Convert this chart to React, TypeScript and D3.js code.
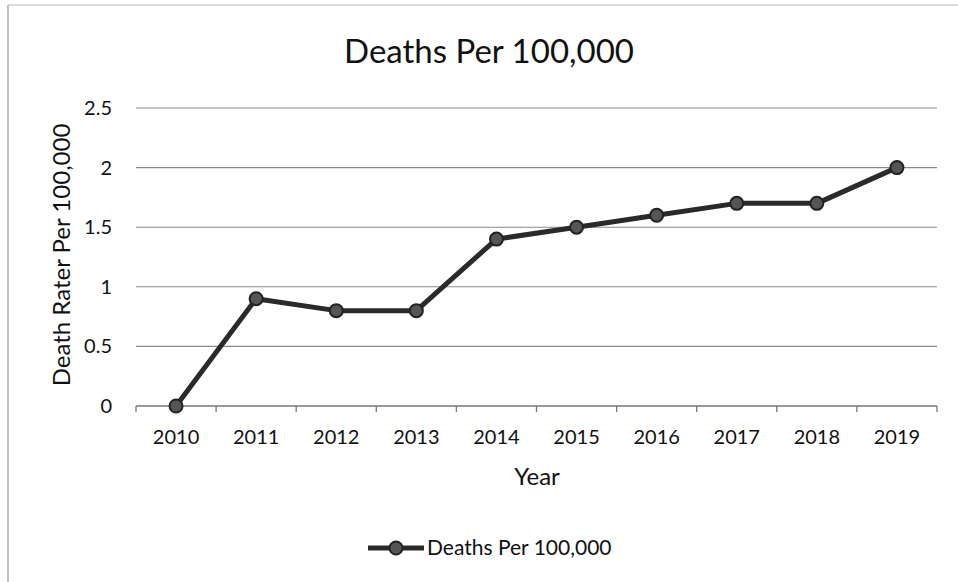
import React from "react";
import * as d3 from "d3";

const years = ["2010", "2011", "2012", "2013", "2014", "2015", "2016", "2017", "2018", "2019"];
const deaths = [0, 0.9, 0.8, 0.8, 1.4, 1.5, 1.6, 1.7, 1.7, 2.0];
const yTicks = [0, 0.5, 1, 1.5, 2, 2.5];
const title = "Deaths Per 100,000";
const seriesName = "Deaths Per 100,000";
const xTitle = "Year";
const yTitle = "Death Rater Per 100,000";

const W = 958;
const H = 582;
const font = "Lato, 'Open Sans', sans-serif";

export default function App() {
  const x = d3.scaleBand<string>().domain(years).range([136, 937]);
  const y = d3.scaleLinear().domain([0, 2.5]).range([406, 108]);
  const line = d3
    .line<number>()
    .x((_, i) => (x(years[i]) as number) + x.bandwidth() / 2)
    .y((d) => y(d));
  const bounds = years.map((yr) => x(yr) as number).concat([x.range()[1]]);

  return (
    <svg
      width={W}
      height={H}
      style={{ position: "absolute", left: 0, top: 0, background: "#fff" }}
      fontFamily={font}
    >
      <rect x={0} y={0} width={W} height={H} fill="#fff" />
      <line x1={8} y1={5} x2={958} y2={5} stroke="#bbb" strokeWidth={1} />
      <line x1={8} y1={5} x2={8} y2={582} stroke="#999" strokeWidth={1.2} />

      <text x={489} y={63} textAnchor="middle" fontSize={33} fill="#111">
        {title}
      </text>

      {yTicks.map((t) => (
        <g key={t}>
          {t > 0 && (
            <line x1={136} x2={937} y1={y(t)} y2={y(t)} stroke="#8a8a8a" strokeWidth={1.1} />
          )}
          <text x={112} y={y(t) + 7} textAnchor="end" fontSize={20} fill="#111">
            {t}
          </text>
        </g>
      ))}

      <line x1={136} x2={937} y1={y(0)} y2={y(0)} stroke="#777" strokeWidth={1.3} />
      {bounds.map((b, i) => (
        <line key={i} x1={b} x2={b} y1={y(0)} y2={y(0) + 6} stroke="#777" strokeWidth={1.3} />
      ))}
      {years.map((yr) => (
        <text
          key={yr}
          x={(x(yr) as number) + x.bandwidth() / 2}
          y={444}
          textAnchor="middle"
          fontSize={20}
          fill="#111"
        >
          {yr}
        </text>
      ))}

      <text x={537} y={485} textAnchor="middle" fontSize={24} fill="#111">
        {xTitle}
      </text>
      <text
        transform="translate(70,255) rotate(-90)"
        textAnchor="middle"
        fontSize={24}
        fill="#111"
      >
        {yTitle}
      </text>

      <path d={line(deaths) ?? ""} fill="none" stroke="#2a2a2a" strokeWidth={5} strokeLinejoin="round" />
      {deaths.map((d, i) => (
        <circle
          key={i}
          cx={(x(years[i]) as number) + x.bandwidth() / 2}
          cy={y(d)}
          r={6.5}
          fill="#555"
          stroke="#222"
          strokeWidth={2}
        />
      ))}

      <line x1={368} x2={424} y1={548} y2={548} stroke="#2a2a2a" strokeWidth={5} />
      <circle cx={396} cy={548} r={6.5} fill="#555" stroke="#222" strokeWidth={2} />
      <text x={427} y={555} fontSize={21} fill="#111">
        {seriesName}
      </text>
    </svg>
  );
}
